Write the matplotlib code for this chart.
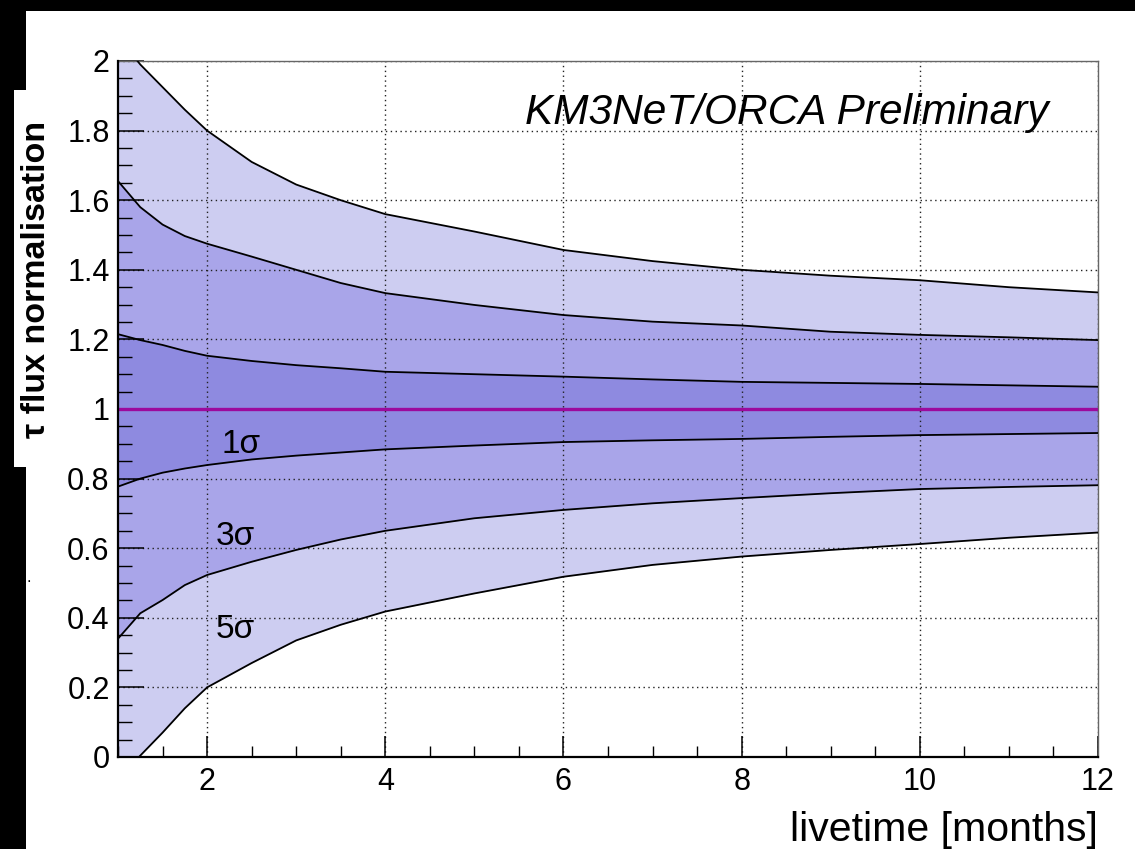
import matplotlib
matplotlib.use("Agg")
import matplotlib.pyplot as plt
from matplotlib.patches import Rectangle
from matplotlib.ticker import MultipleLocator

# ---- data ----
months = [1, 1.25, 1.5, 1.75, 2, 2.5, 3, 3.5, 4, 5, 6, 7, 8, 9, 10, 11, 12]
upper_5sigma = [2.07, 1.99, 1.925, 1.86, 1.80, 1.71, 1.645, 1.60, 1.56, 1.51, 1.457, 1.425, 1.40, 1.383, 1.37, 1.35, 1.335]
upper_3sigma = [1.655, 1.58, 1.53, 1.497, 1.475, 1.438, 1.40, 1.362, 1.333, 1.299, 1.27, 1.251, 1.24, 1.222, 1.213, 1.206, 1.198]
upper_1sigma = [1.215, 1.198, 1.184, 1.167, 1.153, 1.138, 1.126, 1.117, 1.107, 1.100, 1.093, 1.085, 1.078, 1.075, 1.072, 1.068, 1.064]
lower_1sigma = [0.777, 0.80, 0.817, 0.829, 0.839, 0.855, 0.866, 0.875, 0.884, 0.895, 0.905, 0.910, 0.914, 0.920, 0.925, 0.928, 0.931]
lower_3sigma = [0.34, 0.413, 0.451, 0.494, 0.523, 0.561, 0.595, 0.625, 0.65, 0.686, 0.71, 0.729, 0.744, 0.758, 0.77, 0.776, 0.781]
lower_5sigma = [-0.065, 0.004, 0.07, 0.14, 0.20, 0.27, 0.335, 0.38, 0.418, 0.47, 0.518, 0.552, 0.576, 0.595, 0.612, 0.63, 0.645]
nominal = 1.0

x_ticks = [2, 4, 6, 8, 10, 12]
x_tick_labels = ["2", "4", "6", "8", "10", "12"]
y_ticks = [0, 0.2, 0.4, 0.6, 0.8, 1.0, 1.2, 1.4, 1.6, 1.8, 2.0]
y_tick_labels = ["0", "0.2", "0.4", "0.6", "0.8", "1", "1.2", "1.4", "1.6", "1.8", "2"]

band_labels = ["1σ", "3σ", "5σ"]
band_label_pos = [(2.16, 0.874), (2.10, 0.609), (2.10, 0.342)]

plt.rcParams['font.family'] = ['Liberation Sans', 'DejaVu Sans']

W, H = 1135, 849
fig = plt.figure(figsize=(W / 100, H / 100), dpi=100)
fig.patch.set_facecolor("white")

ax = fig.add_axes([118 / W, 1 - 757 / H, (1098 - 118) / W, (757 - 61) / H])

c5, c3, c1 = "#CDCDF1", "#A9A5E9", "#8E8AE0"
ax.fill_between(months, lower_5sigma, upper_5sigma, color=c5, lw=0, zorder=1)
ax.fill_between(months, lower_3sigma, upper_3sigma, color=c3, lw=0, zorder=1.1)
ax.fill_between(months, lower_1sigma, upper_1sigma, color=c1, lw=0, zorder=1.2)
for s in [upper_5sigma, upper_3sigma, upper_1sigma, lower_1sigma, lower_3sigma, lower_5sigma]:
    ax.plot(months, s, color="black", lw=1.3, zorder=3)
ax.axhline(nominal, color="#9C0A9C", lw=2.4, zorder=3.5)

ax.set_xlim(1, 12)
ax.set_ylim(0, 2)
ax.set_xticks(x_ticks)
ax.set_xticklabels(x_tick_labels)
ax.set_yticks(y_ticks)
ax.set_yticklabels(y_tick_labels)
ax.xaxis.set_minor_locator(MultipleLocator(0.5))
ax.yaxis.set_minor_locator(MultipleLocator(0.05))
ax.tick_params(axis="x", which="major", direction="in", length=15, width=1.1,
               labelsize=22, pad=7, top=False)
ax.tick_params(axis="x", which="minor", direction="in", length=8, width=1.0, top=False)
ax.tick_params(axis="y", which="major", direction="in", length=19, width=1.1,
               labelsize=22, pad=6, right=False)
ax.tick_params(axis="y", which="minor", direction="in", length=10, width=1.0, right=False)

ax.grid(True, which="major", color="#222222", linestyle=(0, (1, 2.5)), lw=1.0)
ax.set_axisbelow("line")

for side in ["left", "bottom"]:
    ax.spines[side].set_color("black")
    ax.spines[side].set_linewidth(1.6)
    ax.spines[side].set_zorder(4)
for side in ["top", "right"]:
    ax.spines[side].set_color("#666666")
    ax.spines[side].set_linewidth(1.0)

for lab, (xx, yy) in zip(band_labels, band_label_pos):
    ax.text(xx, yy, lab, fontsize=24, ha="left", va="baseline", zorder=5)

ax.text(11.45, 1.82, "KM3NeT/ORCA Preliminary", fontsize=30.5, style="italic",
        ha="right", va="baseline", zorder=5)

# figure decorations (black border strips)
fig.add_artist(Rectangle((0, 1 - 11 / H), 1, 11 / H, transform=fig.transFigure,
                         facecolor="black", edgecolor="none", zorder=-1))
fig.add_artist(Rectangle((0, 0), 26 / W, 1, transform=fig.transFigure,
                         facecolor="black", edgecolor="none", zorder=-1))
fig.add_artist(Rectangle((14 / W, 1 - 467 / H), 12 / W, (467 - 90) / H,
                         transform=fig.transFigure, facecolor="white",
                         edgecolor="none", zorder=-0.5))

fig.text(37 / W, 1 - 279 / H, "τ flux normalisation", rotation=90, fontsize=24.5,
         fontweight="bold", ha="center", va="center")
fig.text(1098 / W, 1 - 841 / H, "livetime [months]", fontsize=29.5,
         ha="right", va="baseline")
fig.text(29 / W, 1 - 582 / H, ".", fontsize=12, ha="center", va="baseline")

fig.savefig("out.png", dpi=100)
